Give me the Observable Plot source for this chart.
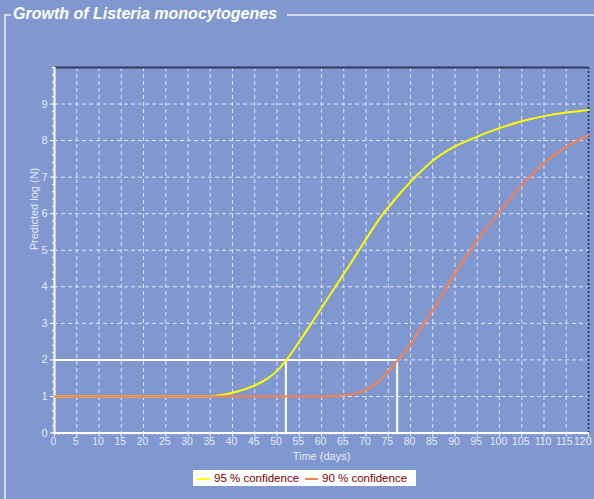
<!DOCTYPE html>
<html><head><meta charset="utf-8">
<script src="https://cdn.jsdelivr.net/npm/d3@7"></script>
<script src="https://cdn.jsdelivr.net/npm/@observablehq/plot@0.6"></script>
<style>
html,body{margin:0;padding:0;background:#8097d0;}
#wrap{position:relative;width:594px;height:499px;background:#8097d0;overflow:hidden;font-family:"Liberation Sans",Arial,sans-serif;}
.fl{position:absolute;background:#d6dae8;}
#title{position:absolute;left:13px;top:6px;line-height:16px;font-size:16px;font-weight:bold;font-style:italic;color:#ffffff;white-space:nowrap;}
#chart{position:absolute;left:0;top:0;}
#legend{position:absolute;left:193px;top:470px;width:223px;height:16px;background:#ffffff;font-size:11.5px;color:#800000;}
#legend span{position:absolute;white-space:nowrap;line-height:16px;top:0;}
#legend i{position:absolute;height:2px;top:8px;}
</style></head><body>
<div id="wrap">
  <div class="fl" style="left:4px;top:14px;width:2px;height:485px"></div>
  <div class="fl" style="left:4px;top:14px;width:7px;height:2px"></div>
  <div class="fl" style="left:287px;top:14px;width:307px;height:2px"></div>
  <div id="title">Growth of Listeria monocytogenes</div>
  <div id="chart"></div>
  <div id="legend"></div>
</div>
<script>
// ---- data ----
const days   = [0, 30, 35, 38, 40, 42, 45, 48, 50, 52, 55, 58, 60, 63, 65, 68, 70, 72, 74, 76, 78, 80, 82, 85, 90, 95, 100, 105, 110, 115, 120];
const conf95 = [1, 1, 1, 1.05, 1.1, 1.17, 1.3, 1.5, 1.7, 1.98, 2.5, 3.05, 3.42, 3.98, 4.35, 4.92, 5.3, 5.68, 6.02, 6.32, 6.6, 6.87, 7.12, 7.45, 7.84, 8.11, 8.34, 8.53, 8.67, 8.77, 8.84];
const conf90 = [1, 1, 1, 1, 1, 1, 1, 1, 1, 1, 1, 1, 1, 1.01, 1.03, 1.09, 1.18, 1.33, 1.55, 1.82, 2.12, 2.43, 2.8, 3.36, 4.36, 5.27, 6.05, 6.78, 7.38, 7.83, 8.15];
const seriesNames = ["95 % confidence", "90 % confidence"];
const seriesColors = ["#ffff00", "#f7804c"];
const threshold = 2;
const crossDays = [52, 77];
const xTicks = [0, 5, 10, 15, 20, 25, 30, 35, 40, 45, 50, 55, 60, 65, 70, 75, 80, 85, 90, 95, 100, 105, 110, 115, 120];
const yTicks = [0, 1, 2, 3, 4, 5, 6, 7, 8, 9];
const xLabel = "Time (days)";
const yLabel = "Predicted log (N)";

// ---- build ----
const rows95 = days.map((d, i) => ({day: d, logN: conf95[i]}));
const rows90 = days.map((d, i) => ({day: d, logN: conf90[i]}));
const xMax = d3.max(xTicks);
const xMinor = d3.range(0, xMax + 1, 1);
const yMinor = d3.range(0, 10.01, 0.2).map(v => +v.toFixed(1));
const xGrid = xTicks.filter(t => t > 0 && t < xMax);
const yGrid = yTicks.filter(t => t > 0);
const textCol = "#e6eaf5";
const gridCol = "#dfe5f3";

const chart = Plot.plot({
  width: 594, height: 470,
  marginTop: 67, marginLeft: 54, marginRight: 6, marginBottom: 37.5,
  style: {background: "transparent", fontFamily: "'Liberation Sans', Arial, sans-serif", fontSize: "11px", color: textCol, overflow: "visible"},
  x: {domain: [0, xMax], label: null},
  y: {domain: [0, 10], label: null},
  marks: [
    Plot.ruleX(xGrid, {stroke: gridCol, strokeWidth: 1, strokeDasharray: "4,3"}),
    Plot.ruleY(yGrid, {stroke: gridCol, strokeWidth: 1, strokeDasharray: "4,3"}),
    Plot.ruleY([10], {stroke: "#323c5c", strokeWidth: 2}),
    Plot.ruleX([xMax], {stroke: "#323c5c", strokeWidth: 2, strokeDasharray: "2,2"}),
    Plot.axisX({ticks: xMinor, tickSize: 2, tickFormat: () => "", stroke: "white", label: null}),
    Plot.axisX({ticks: xTicks, tickSize: 4, tickFormat: () => "", stroke: "white", label: null}),
    Plot.axisX({ticks: xTicks.slice(0, -2), tickSize: 4, tickPadding: 1, stroke: "none", fill: textCol, fontSize: 10.5, dx: -1, label: null}),
    Plot.axisX({ticks: xTicks.slice(-2, -1), tickSize: 4, tickPadding: 1, stroke: "none", fill: textCol, fontSize: 10.5, dx: -2, label: null}),
    Plot.axisX({ticks: xTicks.slice(-1), tickSize: 4, tickPadding: 1, stroke: "none", fill: textCol, fontSize: 10.5, textAnchor: "end", dx: 3, label: null}),
    Plot.axisY({ticks: yMinor, tickSize: 2, tickFormat: () => "", stroke: "white", label: null}),
    Plot.axisY({ticks: yTicks, tickSize: 4, tickPadding: 3, stroke: "white", fill: textCol, label: null}),
    Plot.ruleX(crossDays, {y1: 0, y2: threshold, stroke: "white", strokeWidth: 2}),
    Plot.ruleY([threshold], {x1: 0, x2: d3.max(crossDays), stroke: "white", strokeWidth: 2}),
    Plot.ruleY([0], {stroke: "white", strokeWidth: 2}),
    Plot.ruleX([0], {stroke: "white", strokeWidth: 2}),
    Plot.line(rows95, {x: "day", y: "logN", stroke: seriesColors[0], strokeWidth: 2, curve: "monotone-x"}),
    Plot.line(rows90, {x: "day", y: "logN", stroke: seriesColors[1], strokeWidth: 2, curve: "monotone-x"}),
    Plot.text([xLabel], {text: d => d, frameAnchor: "bottom", dy: 26.5, fill: textCol, fontSize: 11}),
    Plot.text([yLabel], {text: d => d, frameAnchor: "left", dx: -20.5, rotate: -90, fill: textCol, fontSize: 11})
  ]
});
document.getElementById("chart").appendChild(chart);

// legend
const leg = document.getElementById("legend");
const swX = [4, 112], txX = [21, 129];
seriesNames.forEach((name, i) => {
  const sw = document.createElement("i");
  sw.style.left = swX[i] + "px"; sw.style.width = "13px"; sw.style.background = seriesColors[i];
  leg.appendChild(sw);
  const t = document.createElement("span");
  t.style.left = txX[i] + "px"; t.textContent = name;
  leg.appendChild(t);
});
</script>
</body></html>
